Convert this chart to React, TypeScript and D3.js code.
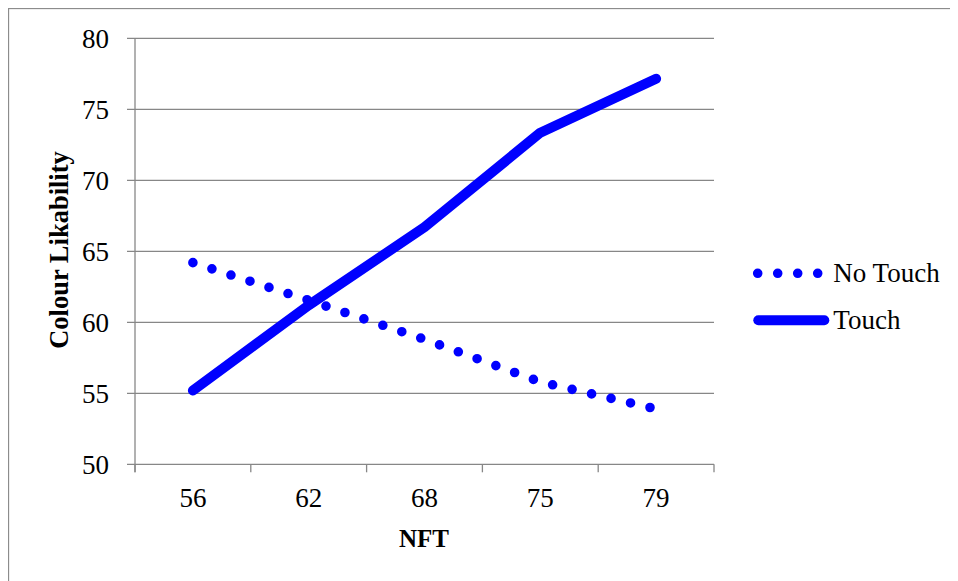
import React from "react";
import * as d3 from "d3";

const categories = ["56", "62", "68", "75", "79"];
const noTouch = [64.2, 61.55, 58.8, 55.8, 53.9];
const touch = [55.2, 61.2, 66.7, 73.35, 77.15];
const yTicks = [50, 55, 60, 65, 70, 75, 80];
const seriesNames = ["No Touch", "Touch"];

const BLUE = "#0000ff";
const GRID = "#878787";
const FONT = "'Liberation Serif', 'Times New Roman', serif";

export default function App() {
  const left = 135, right = 714, top = 38.3, bottom = 464.3;
  const x = d3.scaleBand<string>().domain(categories).range([left, right]).padding(0);
  const y = d3.scaleLinear().domain([50, 80]).range([bottom, top]);
  const cx = (c: string) => (x(c) as number) + x.bandwidth() / 2;
  const line = d3
    .line<number>()
    .x((_, i) => cx(categories[i]))
    .y((d) => y(d));
  const xTickPos = [...categories.map((c) => x(c) as number), right];

  return (
    <svg width={950} height={573} style={{ display: "block" }}>
      <g transform="translate(-8,-8)">
        <rect x={8.5} y={8.5} width={1000} height={1000} fill="#fff" stroke="#8c8c8c" strokeWidth={1.3} />
        {/* gridlines */}
        {yTicks.map((t) => (
          <line key={"g" + t} x1={left - 8} x2={right} y1={y(t)} y2={y(t)} stroke={GRID} strokeWidth={1.3} />
        ))}
        {/* y axis */}
        <line x1={left} x2={left} y1={top} y2={bottom + 8} stroke={GRID} strokeWidth={1.3} />
        {/* x ticks */}
        {xTickPos.map((p, i) => (
          <line key={"xt" + i} x1={p} x2={p} y1={bottom} y2={bottom + 8} stroke={GRID} strokeWidth={1.3} />
        ))}
        {/* y labels */}
        {yTicks.map((t) => (
          <text key={"yl" + t} x={109} y={y(t) + 9.3} textAnchor="end" fontFamily={FONT} fontSize={27} fill="#000">
            {t}
          </text>
        ))}
        {/* x labels */}
        {categories.map((c) => (
          <text key={"xl" + c} x={cx(c)} y={507} textAnchor="middle" fontFamily={FONT} fontSize={27} fill="#000">
            {c}
          </text>
        ))}
        {/* axis titles */}
        <text x={424} y={547} textAnchor="middle" fontFamily={FONT} fontSize={25} fontWeight="bold" fill="#000">
          NFT
        </text>
        <text
          transform={`translate(67.5,250) rotate(-90)`}
          textAnchor="middle"
          fontFamily={FONT}
          fontSize={26.5}
          fontWeight="bold"
          fill="#000"
        >
          Colour Likability
        </text>
        {/* series */}
        <path d={line(noTouch) || ""} fill="none" stroke={BLUE} strokeWidth={9.6} strokeLinecap="round" strokeDasharray="0 20" />
        <path d={line(touch) || ""} fill="none" stroke={BLUE} strokeWidth={10} strokeLinecap="round" strokeLinejoin="round" />
        {/* legend */}
        <line x1={757.7} x2={818} y1={273.3} y2={273.3} stroke={BLUE} strokeWidth={9.6} strokeLinecap="round" strokeDasharray="0 20" />
        <text x={833.3} y={281.7} fontFamily={FONT} fontSize={27} fill="#000">
          {seriesNames[0]}
        </text>
        <line x1={758.3} x2={824.3} y1={320.3} y2={320.3} stroke={BLUE} strokeWidth={10} strokeLinecap="round" />
        <text x={833.3} y={329.3} fontFamily={FONT} fontSize={27} fill="#000">
          {seriesNames[1]}
        </text>
      </g>
    </svg>
  );
}
